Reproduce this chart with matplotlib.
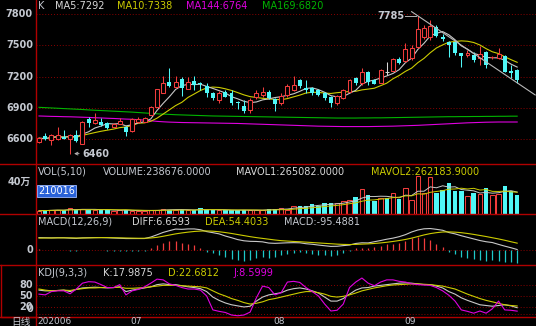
import numpy as np
import pandas as pd
import matplotlib
matplotlib.use("Agg")
import matplotlib.pyplot as plt

plt.rcParams['font.family'] = ['DejaVu Sans', 'Noto Sans CJK SC']

# daily candles, 2020-06 .. 2020-09
opens = [6575, 6625, 6590, 6600, 6615, 6600, 6640, 6553, 6790, 6752, 6767, 6752, 6720, 6745, 6720,
         6675, 6760, 6767, 6832, 6912, 7046, 7152, 7098, 7175, 7085, 7162, 7140, 7111, 7040, 6976,
         7056, 7040, 6960, 6921, 6880, 7008, 7024, 7050, 6983, 6944, 7024, 7072, 7168, 7090, 7089,
         7072, 7040, 7008, 6944, 6992, 7056, 7185, 7142, 7248, 7168, 7142, 7240, 7258, 7367, 7350,
         7380, 7488, 7585, 7585, 7681, 7585, 7537, 7537, 7425, 7409, 7409, 7377, 7440, 7385, 7377,
         7399, 7255, 7264]
highs = [6615, 6660, 6645, 6715, 6690, 6645, 6688, 6770, 6815, 6848, 6805, 6760, 6750, 6800, 6730,
         6800, 6810, 6815, 6920, 7085, 7207, 7280, 7207, 7200, 7200, 7205, 7152, 7142, 7056, 7066,
         7072, 7072, 6968, 6976, 6992, 7072, 7098, 7072, 6990, 7040, 7130, 7207, 7180, 7168, 7100,
         7080, 7050, 7015, 7025, 7080, 7175, 7200, 7280, 7255, 7175, 7275, 7338, 7375, 7385, 7521,
         7500, 7785, 7700, 7745, 7700, 7610, 7545, 7545, 7430, 7455, 7440, 7490, 7450, 7400, 7479,
         7405, 7312, 7270]
lows = [6565, 6595, 6545, 6595, 6600, 6460, 6575, 6550, 6720, 6745, 6730, 6700, 6715, 6740, 6630,
        6670, 6755, 6760, 6830, 6905, 7040, 7105, 7090, 7010, 7080, 7070, 7072, 7008, 6976, 6944,
        7000, 6928, 6887, 6848, 6848, 6983, 7008, 6983, 6873, 6930, 7000, 7065, 7090, 7040, 7020,
        7010, 6980, 6912, 6925, 6985, 7050, 7120, 7120, 7120, 7125, 7135, 7216, 7250, 7320, 7340,
        7360, 7480, 7560, 7553, 7580, 7540, 7392, 7410, 7296, 7390, 7345, 7310, 7280, 7370, 7370,
        7240, 7184, 7142]
closes = [6608, 6600, 6640, 6640, 6605, 6640, 6585, 6765, 6758, 6783, 6735, 6704, 6745, 6777, 6672,
          6790, 6795, 6800, 6910, 7079, 7135, 7110, 7152, 7090, 7145, 7120, 7130, 7046, 6992, 7040,
          7008, 6950, 6944, 6873, 6976, 7040, 7050, 6992, 6938, 7015, 7111, 7120, 7111, 7075, 7046,
          7024, 6992, 6950, 7015, 7072, 7168, 7137, 7248, 7152, 7130, 7265, 7240, 7367, 7335, 7465,
          7480, 7660, 7665, 7690, 7591, 7560, 7505, 7425, 7400, 7428, 7360, 7420, 7312, 7390, 7420,
          7248, 7234, 7168]
volumes = [40000, 45000, 50000, 55000, 45000, 72000, 50000, 65000, 55000, 45000, 55000, 50000, 40000,
           45000, 50000, 40000, 35000, 40000, 45000, 55000, 66000, 55000, 50000, 50000, 45000, 50000,
           72000, 50000, 45000, 50000, 45000, 50000, 45000, 50000, 45000, 45000, 50000, 66000, 65000,
           70000, 55000, 103000, 103000, 100000, 124000, 103000, 136000, 136000, 136000, 157000,
           177000, 206000, 309000, 231000, 157000, 198000, 198000, 260000, 190000, 318000, 177000,
           465000, 260000, 460000, 260000, 301000, 384000, 281000, 289000, 219000, 260000, 248000,
           322000, 239000, 248000, 343000, 289000, 238676]
ma144 = [6822, 6820, 6818, 6817, 6815, 6814, 6812, 6810, 6808, 6805, 6803, 6800, 6798, 6795, 6792,
         6790, 6786, 6782, 6776, 6770, 6766, 6763, 6761, 6759, 6758, 6757, 6756, 6755, 6754, 6753,
         6752, 6751, 6750, 6748, 6746, 6744, 6742, 6740, 6738, 6736, 6734, 6732, 6730, 6728, 6726,
         6724, 6723, 6722, 6721, 6720, 6720, 6720, 6720, 6720, 6721, 6722, 6723, 6724, 6726, 6728,
         6730, 6732, 6735, 6738, 6741, 6744, 6747, 6750, 6753, 6756, 6758, 6760, 6762, 6763, 6764,
         6764, 6764, 6764]
ma169 = [6905, 6902, 6899, 6896, 6893, 6890, 6887, 6884, 6880, 6877, 6874, 6871, 6868, 6865, 6862,
         6859, 6855, 6851, 6847, 6843, 6840, 6837, 6834, 6832, 6830, 6828, 6826, 6824, 6822, 6821,
         6820, 6819, 6818, 6817, 6816, 6815, 6814, 6813, 6812, 6811, 6810, 6809, 6808, 6807, 6806,
         6805, 6804, 6803, 6802, 6802, 6802, 6802, 6803, 6803, 6804, 6804, 6805, 6806, 6807, 6808,
         6809, 6810, 6811, 6812, 6813, 6814, 6815, 6815, 6816, 6816, 6817, 6817, 6818, 6818, 6819,
         6819, 6820, 6820]
diff = [96, 95, 94, 95, 95, 92, 90, 94, 95, 96, 96, 95, 93, 91, 89, 89, 89, 89, 100, 117, 135, 148,
        160, 158, 161, 161, 155, 141, 133, 124, 108, 95, 81, 72, 68, 67, 64, 55, 53, 55, 57, 58, 57,
        50, 46, 40, 35, 30, 31, 36, 40, 52, 57, 56, 65, 74, 84, 92, 103, 118, 138, 153, 162, 164, 158,
        151, 134, 124, 110, 98, 86, 74, 65, 59, 45, 32, 20, 6.66]
dea = [92, 93, 93, 94, 94, 94, 93, 93, 94, 95, 96, 96, 95, 94, 93, 92, 91, 91, 93, 98, 106, 115,
       124, 131, 137, 142, 145, 146, 144, 140, 134, 127, 119, 111, 103, 96, 90, 84, 78, 73, 70, 67,
       65, 62, 59, 56, 53, 50, 47, 45, 44, 45, 47, 49, 52, 56, 61, 67, 74, 82, 92, 104, 116, 126,
       133, 138, 139, 137, 133, 127, 120, 112, 104, 95, 86, 76, 65, 54.4]
macd = [8, 3, 2, 3, 1, -3, -5, 2, 3, 2, 1, -2, -3, -5, -8, -6, -4, -3, 15, 38, 59, 67, 72, 54, 49,
        38, 21, -10, -21, -31, -51, -64, -75, -77, -69, -57, -51, -57, -49, -36, -26, -18, -15, -23,
        -26, -31, -36, -39, -31, -18, -8, 15, 21, 15, 26, 36, 46, 51, 59, 72, 92, 98, 92, 77, 51, 26,
        -10, -26, -46, -57, -67, -75, -77, -72, -82, -87, -90, -95.5]
kdj_k = [66, 64, 64, 65, 66, 62, 68, 72, 73, 74, 73, 72, 73, 75, 62, 66, 69, 72, 75, 81, 83, 81, 81,
         78, 75, 73, 70, 62, 47, 38, 31, 26, 23, 20, 22, 36, 47, 53, 56, 59, 66, 70, 72, 69, 64, 58,
         47, 36, 36, 43, 55, 66, 72, 73, 77, 79, 81, 83, 85, 86, 85, 83, 81, 81, 77, 72, 62, 55, 45,
         38, 32, 26, 24, 22, 24, 26, 23, 18]
kdj_d = [69, 66, 64, 65, 66, 65, 68, 70, 72, 72, 73, 73, 73, 74, 71, 71, 72, 73, 75, 77, 79, 79, 79,
         78, 77, 76, 75, 72, 64, 56, 50, 43, 38, 32, 28, 30, 34, 40, 43, 47, 51, 55, 59, 62, 62, 59,
         55, 49, 47, 49, 53, 58, 64, 68, 72, 75, 78, 80, 81, 82, 83, 83, 82, 81, 79, 77, 73, 69, 62,
         55, 49, 43, 38, 34, 30, 26, 24, 22.7]
kdj_j = [55, 53, 62, 64, 64, 56, 69, 85, 89, 88, 81, 73, 73, 81, 53, 64, 68, 75, 85, 96, 94, 83, 79,
         73, 69, 69, 66, 50, 12, 8, 5, -2, -4, -2, 6, 45, 77, 73, 53, 59, 88, 90, 87, 73, 62, 50, 28,
         9, 11, 28, 73, 88, 99, 85, 78, 88, 94, 94, 90, 88, 83, 81, 80, 79, 73, 64, 52, 36, 12, 8, 3,
         9, 3, 15, 36, 12, 11, 8.6]
month_labels = ['202006', '07', '08', '09']
month_start = [0, 15, 38, 59]

W, H = 536, 326
RED = '#f03c3c'
CYAN = '#4ff7f7'
GRID = '#8a0000'
BORDER = '#b00000'
LABEL = '#c4c8d0'
WHITE = '#d8d8d8'
YELLOW = '#cccc00'
MAGENTA = '#e000e0'
GREEN = '#00b400'

n = len(closes)
x = np.arange(n)
o = np.array(opens, float)
c = np.array(closes, float)
hi = np.array(highs, float)
lo = np.array(lows, float)
up = c > o
dn = c < o
eq = c == o

ma5 = pd.Series(c).rolling(5, min_periods=1).mean()
ma10 = pd.Series(c).rolling(10, min_periods=1).mean()
vol = np.array(volumes, float)
mavol1 = pd.Series(vol).rolling(5, min_periods=1).mean()
mavol2 = pd.Series(vol).rolling(10, min_periods=1).mean()

fig = plt.figure(figsize=(W / 100, H / 100), dpi=100, facecolor='black')

step = 6.21
x0 = 39.0
xl = ((36 - x0) / step, (536 - x0) / step)


def panel(top, bottom):
    ax = fig.add_axes([36 / W, 1 - bottom / H, 500 / W, (bottom - top) / H])
    ax.set_facecolor('none')
    ax.set_xlim(*xl)
    ax.axis('off')
    return ax


def grid(ax, levels):
    for v in levels:
        ax.axhline(v, color=GRID, lw=0.7, ls=(0, (1, 2)), zorder=0)


# main price panel
ax = panel(0, 163.5)
ax.set_ylim(6365, 7937)
grid(ax, [7800, 7500, 7200, 6900, 6600])
ax.plot(x, ma169, color=GREEN, lw=0.8)
ax.plot(x, ma144, color=MAGENTA, lw=0.8)
ax.plot(x, ma10, color=YELLOW, lw=0.8)
ax.plot(x, ma5, color='#c8c8c8', lw=0.8)
w = 0.64
ax.vlines(x[up], c[up], hi[up], color=RED, lw=0.75, zorder=3)
ax.vlines(x[up], lo[up], o[up], color=RED, lw=0.75, zorder=3)
ax.bar(x[up], c[up] - o[up], bottom=o[up], width=w, facecolor='black', edgecolor=RED, lw=0.75, zorder=4)
ax.vlines(x[dn], lo[dn], hi[dn], color=CYAN, lw=0.75, zorder=3)
ax.bar(x[dn], o[dn] - c[dn], bottom=c[dn], width=w, color=CYAN, lw=0, zorder=4)
ax.vlines(x[eq], lo[eq], hi[eq], color=WHITE, lw=0.75, zorder=3)
ax.hlines(o[eq], x[eq] - w / 2, x[eq] + w / 2, color=WHITE, lw=0.75, zorder=4)
# trend line drawn from the top
ax.plot([60.0, 79.9], [7825, 7024], color='#b8b8b8', lw=0.8, zorder=5)
ih = int(np.argmax(hi))
il = int(np.argmin(lo))
ax.plot([ih - 2.0, ih - 0.3], [hi[ih], hi[ih]], color='#b0b0b0', lw=0.7)
ax.text(ih - 2.2, hi[ih], '%d' % hi[ih], color=LABEL, fontsize=7, fontweight='bold', ha='right', va='center')
ax.annotate('', xy=(il + 0.2, lo[il]), xytext=(il + 1.9, lo[il]),
            arrowprops=dict(arrowstyle='->', color='#b0b0b0', lw=0.7, mutation_scale=5))
ax.text(il + 2.0, lo[il], '%d' % lo[il], color=LABEL, fontsize=7, fontweight='bold', ha='left', va='center')

# volume panel
axv = panel(163.5, 214)
axv.set_ylim(0, 625000)
vw = 0.72
axv.bar(x[up], vol[up], width=vw, facecolor='black', edgecolor=RED, lw=0.75)
axv.bar(x[~up], vol[~up], width=vw, color=CYAN, lw=0)
axv.plot(x, mavol1, color='#c8c8c8', lw=0.7)
axv.plot(x, mavol2, color=YELLOW, lw=0.7)

# MACD panel
axm = panel(214, 265)
axm.set_ylim(-109.5, 273)
grid(axm, [0])
mac = np.array(macd, float)
axm.vlines(x[mac > 0], 0, mac[mac > 0], color=RED, lw=0.9)
axm.vlines(x[mac <= 0], mac[mac <= 0], 0, color='#20c8c8', lw=0.9)
axm.plot(x, diff, color='#c8c8c8', lw=0.8)
axm.plot(x, dea, color=YELLOW, lw=0.8)

# KDJ panel
axk = panel(265, 317)
axk.set_ylim(-7.4, 134.6)
grid(axk, [80, 50, 20, 0])
axk.plot(x, kdj_k, color='#c8c8c8', lw=0.8)
axk.plot(x, kdj_d, color=YELLOW, lw=0.8)
axk.plot(x, kdj_j, color=MAGENTA, lw=0.8)

# overlay in pixel coordinates for frame and labels
ov = fig.add_axes([0, 0, 1, 1], zorder=10)
ov.set_xlim(0, W)
ov.set_ylim(H, 0)
ov.axis('off')
ov.patch.set_alpha(0)
for yy in [163.5, 214, 265, 317]:
    ov.plot([0, W], [yy, yy], color=BORDER, lw=1.0)
ov.plot([36, 36], [0, H], color=BORDER, lw=1.0)
ov.plot([1, 1, 36], [265, 317, 317], color=BORDER, lw=1.0)


def txt(px, py, s, color, size=7, ha='left', weight='normal'):
    ov.text(px, py, s, color=color, fontsize=size, ha=ha, va='center', fontweight=weight)


def ylab(ax_, v, s):
    py = H - ax_.transData.transform((0, v))[1]
    txt(33, py, s, LABEL, 7, 'right', 'bold')


for v in [7800, 7500, 7200, 6900, 6600]:
    ylab(ax, v, str(v))
ylab(axm, 0, '0')
for v in [80, 50, 20]:
    ylab(axk, v, str(v))
txt(33, 309.5, '0', LABEL, 7, 'right', 'bold')
txt(31, 182, '40万', LABEL, 7, 'right', 'bold')
txt(31, 321.5, '日线', LABEL, 7, 'right')

# panel titles
txt(38, 6, 'K', LABEL)
txt(55, 6, 'MA5:%d' % round(ma5.iloc[-1]), WHITE)
txt(117, 6, 'MA10:%d' % round(ma10.iloc[-1]), YELLOW)
txt(186, 6, 'MA144:%d' % ma144[-1], MAGENTA)
txt(262, 6, 'MA169:%d' % ma169[-1], GREEN)

txt(38, 172, 'VOL(5,10)', LABEL)
txt(103, 172, 'VOLUME:%.4f' % vol[-1], LABEL)
txt(236, 172, 'MAVOL1:265082.0000', WHITE)
txt(371, 172, 'MAVOL2:262183.9000', YELLOW)
ov.text(38, 191, '210016', color='white', fontsize=7, ha='left', va='center',
        bbox=dict(boxstyle='square,pad=0.15', facecolor='#2a62d8', edgecolor='#9ab8ff', lw=0.6))

txt(38, 222, 'MACD(12,26,9)', LABEL)
txt(132, 222, 'DIFF:6.6593', WHITE)
txt(205, 222, 'DEA:54.4033', YELLOW)
txt(284, 222, 'MACD:-95.4881', LABEL)

txt(38, 273, 'KDJ(9,3,3)', LABEL)
txt(103, 273, 'K:17.9875', WHITE)
txt(168, 273, 'D:22.6812', YELLOW)
txt(233, 273, 'J:8.5999', MAGENTA)

for lab, i in zip(month_labels, month_start):
    txt(x0 + step * i - 1.5, 321.5, lab, LABEL, 6.5)

fig.savefig('out.png', dpi=100, facecolor='black')
